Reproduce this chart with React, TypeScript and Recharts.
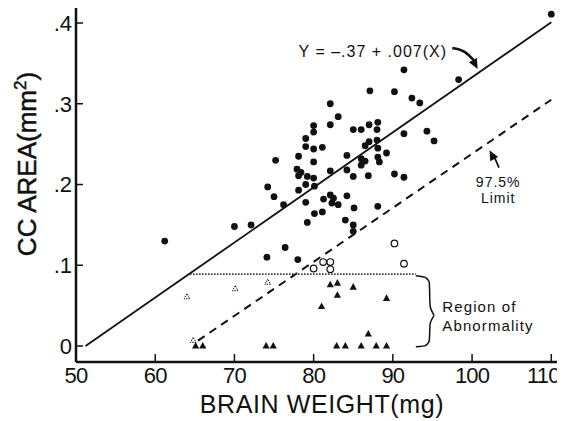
import React from 'react';
import { ComposedChart, XAxis, YAxis, Scatter, Line } from 'recharts';

const FONT = '"Liberation Sans", Arial, Helvetica, sans-serif';
const INK = '#111111';

const xTicks = [50, 60, 70, 80, 90, 100, 110];
const yTicks = [0, 0.1, 0.2, 0.3, 0.4];

// filled circles
const normalCases = [
  { x: 61.2, y: 0.130 }, { x: 70.0, y: 0.148 }, { x: 72.1, y: 0.150 }, { x: 74.1, y: 0.110 },
  { x: 74.2, y: 0.197 }, { x: 75.0, y: 0.185 }, { x: 75.2, y: 0.230 }, { x: 76.2, y: 0.175 },
  { x: 76.4, y: 0.122 }, { x: 78.0, y: 0.107 }, { x: 78.1, y: 0.235 }, { x: 77.9, y: 0.219 },
  { x: 78.4, y: 0.215 }, { x: 78.1, y: 0.211 }, { x: 78.1, y: 0.193 }, { x: 79.0, y: 0.200 },
  { x: 80.1, y: 0.198 }, { x: 79.2, y: 0.210 }, { x: 80.0, y: 0.208 }, { x: 79.0, y: 0.257 },
  { x: 79.0, y: 0.247 }, { x: 79.0, y: 0.178 }, { x: 79.2, y: 0.153 }, { x: 80.0, y: 0.273 },
  { x: 80.0, y: 0.265 }, { x: 80.0, y: 0.244 }, { x: 80.0, y: 0.228 }, { x: 80.1, y: 0.164 },
  { x: 81.1, y: 0.246 }, { x: 81.1, y: 0.166 }, { x: 81.25, y: 0.182 }, { x: 82.1, y: 0.300 },
  { x: 82.1, y: 0.274 }, { x: 82.1, y: 0.217 }, { x: 82.1, y: 0.187 }, { x: 82.5, y: 0.183 },
  { x: 82.3, y: 0.177 }, { x: 83.1, y: 0.284 }, { x: 83.1, y: 0.175 }, { x: 84.0, y: 0.156 },
  { x: 84.2, y: 0.236 }, { x: 84.2, y: 0.218 }, { x: 84.2, y: 0.186 }, { x: 85.0, y: 0.268 },
  { x: 85.0, y: 0.210 }, { x: 85.1, y: 0.171 }, { x: 85.0, y: 0.150 }, { x: 85.0, y: 0.142 },
  { x: 86.0, y: 0.268 }, { x: 86.0, y: 0.232 }, { x: 86.5, y: 0.229 }, { x: 86.0, y: 0.224 },
  { x: 86.5, y: 0.248 }, { x: 87.0, y: 0.253 }, { x: 87.0, y: 0.274 }, { x: 87.1, y: 0.316 },
  { x: 86.9, y: 0.211 }, { x: 88.1, y: 0.277 }, { x: 88.0, y: 0.268 }, { x: 88.0, y: 0.255 },
  { x: 88.1, y: 0.245 }, { x: 88.1, y: 0.234 }, { x: 88.3, y: 0.228 }, { x: 88.1, y: 0.173 },
  { x: 89.2, y: 0.239 }, { x: 90.2, y: 0.315 }, { x: 90.2, y: 0.213 }, { x: 91.4, y: 0.342 },
  { x: 91.4, y: 0.263 }, { x: 91.4, y: 0.209 }, { x: 92.4, y: 0.307 }, { x: 93.4, y: 0.301 },
  { x: 94.3, y: 0.266 }, { x: 95.2, y: 0.254 }, { x: 98.3, y: 0.330 }, { x: 110.0, y: 0.411 },
];

// open circles
const borderlineCases = [
  { x: 80.0, y: 0.096 }, { x: 81.2, y: 0.104 }, { x: 82.1, y: 0.104 }, { x: 82.1, y: 0.095 },
  { x: 90.2, y: 0.127 }, { x: 91.4, y: 0.102 },
];

// filled triangles
const abnormalCases = [
  { x: 65.1, y: 0 }, { x: 66.0, y: 0 }, { x: 74.0, y: 0 }, { x: 74.9, y: 0 },
  { x: 82.1, y: 0.076 }, { x: 83.0, y: 0.078 }, { x: 85.0, y: 0.073 }, { x: 83.0, y: 0.063 },
  { x: 89.2, y: 0.059 }, { x: 81.0, y: 0.049 }, { x: 86.9, y: 0.015 }, { x: 82.9, y: 0 },
  { x: 84.0, y: 0 }, { x: 86.0, y: 0 }, { x: 87.9, y: 0 }, { x: 89.2, y: 0 },
];

// open triangles
const abnormalOpenCases = [
  { x: 64.0, y: 0.061 }, { x: 70.1, y: 0.071 }, { x: 74.2, y: 0.079 }, { x: 64.8, y: 0.007 },
];

const regressionLine = [{ x: 51.2, y: 0 }, { x: 110.0, y: 0.401 }];
const limitLine = [{ x: 65.4, y: 0.0066 }, { x: 110.0, y: 0.305 }];
const thresholdLine = [{ x: 64.4, y: 0.089 }, { x: 92.9, y: 0.089 }];
const braceUpper = [
  { x: 92.9, y: 0.087 }, { x: 94.1, y: 0.085 }, { x: 94.6, y: 0.078 }, { x: 94.7, y: 0.050 }, { x: 95.2, y: 0.038 },
];
const braceLower = [
  { x: 95.2, y: 0.038 }, { x: 94.7, y: 0.027 }, { x: 94.6, y: 0.007 }, { x: 94.1, y: 0.0005 }, { x: 92.9, y: -0.001 },
];
const equationArrow = [{ x: 97.5, y: 0.369 }, { x: 99.1, y: 0.364 }, { x: 100.2, y: 0.354 }];
const limitArrow = [{ x: 103.4, y: 0.221 }, { x: 102.9, y: 0.232 }, { x: 102.5, y: 0.238 }];
const arrowHeads = [
  { x: 100.7, y: 0.343, angle: 62 },
  { x: 102.2, y: 0.2425, angle: -118 },
];

const annotations = [
  { x: 78.1, y: 0.358, text: 'Y = \u2013.37 + .007(X)', kind: 'equation' },
  { x: 103.3, y: 0.1965, text: '97.5%', kind: 'limit' },
  { x: 103.3, y: 0.1775, text: 'Limit', kind: 'limit' },
  { x: 96.25, y: 0.042, text: 'Region of', kind: 'region' },
  { x: 96.25, y: 0.0186, text: 'Abnormality', kind: 'region' },
];

const annotationStyle: Record<string, any> = {
  equation: { fontSize: 16, letterSpacing: 1, textAnchor: 'start' },
  limit: { fontSize: 14, letterSpacing: 1, textAnchor: 'middle' },
  region: { fontSize: 15, letterSpacing: 1.1, textAnchor: 'start' },
};

const fmtY = (v: number) => (v === 0 ? '0' : '.' + Math.round(v * 10));

const FilledCircle = (p: any) => <circle cx={p.cx} cy={p.cy} r={3.4} fill={INK} />;
const OpenCircle = (p: any) => (
  <circle cx={p.cx} cy={p.cy} r={3.3} fill="#fff" stroke={INK} strokeWidth={1.2} />
);
const FilledTriangle = (p: any) => (
  <polygon
    points={`${p.cx},${p.cy - 4} ${p.cx - 3.6},${p.cy + 2.6} ${p.cx + 3.6},${p.cy + 2.6}`}
    fill={INK}
  />
);
const OpenTriangle = (p: any) => (
  <polygon
    points={`${p.cx},${p.cy - 3} ${p.cx - 2.8},${p.cy + 2} ${p.cx + 2.8},${p.cy + 2}`}
    fill="#fff"
    stroke={INK}
    strokeWidth={1}
    strokeDasharray="1.5 1"
  />
);
const ArrowHead = (p: any) => (
  <polygon
    points="0,0 -10,-4.5 -10,4.5"
    transform={`translate(${p.cx},${p.cy}) rotate(${p.payload.angle})`}
    fill={INK}
  />
);
const AnnotationText = (p: any) => {
  const s = annotationStyle[p.payload.kind];
  return (
    <text
      x={p.cx}
      y={p.cy}
      fontFamily={FONT}
      fontSize={s.fontSize}
      letterSpacing={s.letterSpacing}
      textAnchor={s.textAnchor}
      fill={INK}
    >
      {p.payload.text}
    </text>
  );
};

const XTick = (p: any) => {
  const v = p.payload.value;
  const shift = v === 110 ? -8 : 0;
  return (
    <text
      x={p.x + shift}
      y={p.y}
      dy="0.71em"
      textAnchor="middle"
      fontFamily={FONT}
      fontSize={22}
      letterSpacing={-0.8}
      fill={INK}
    >
      {v}
    </text>
  );
};

const XTitle = (p: any) => {
  const vb = p.viewBox;
  return (
    <text
      x={vb.x + vb.width / 2 + 4}
      y={vb.y + 51}
      textAnchor="middle"
      fontFamily={FONT}
      fontSize={25}
      letterSpacing={0.6}
      fill={INK}
    >
      BRAIN WEIGHT(mg)
    </text>
  );
};

const YTitle = (p: any) => {
  const vb = p.viewBox;
  const cx = vb.x + 19;
  const cy = vb.y + 156;
  return (
    <text
      transform={`translate(${cx},${cy}) rotate(-90)`}
      x={0}
      y={9}
      textAnchor="middle"
      fontFamily={FONT}
      fontSize={26}
      fill={INK}
      stroke={INK}
      strokeWidth={0.5}
    >
      CC AREA(mm
      <tspan dy={-10} fontSize={17}>2</tspan>
      <tspan dy={10}>)</tspan>
    </text>
  );
};

const lineCommon = {
  dataKey: 'y',
  dot: false,
  activeDot: false,
  isAnimationActive: false,
  legendType: 'none' as const,
};

export default function App() {
  return (
    <div style={{ width: 557, height: 413, background: '#fff' }}>
      <ComposedChart width={557} height={413} margin={{ top: 0, right: 0, bottom: 0, left: 0 }}>
        <XAxis
          type="number"
          dataKey="x"
          domain={[50, 111.1]}
          ticks={xTicks}
          interval={0}
          allowDataOverflow
          height={59}
          tickSize={-8}
          tickMargin={13}
          tick={XTick}
          axisLine={{ stroke: INK, strokeWidth: 2.5 }}
          tickLine={{ stroke: INK, strokeWidth: 1.5 }}
          label={{ content: XTitle }}
        />
        <YAxis
          type="number"
          domain={[-0.0198, 0.4186]}
          ticks={yTicks}
          interval={0}
          allowDataOverflow
          width={68}
          tickSize={-7}
          tickMargin={11}
          tickFormatter={fmtY}
          tick={{ fontSize: 22, fill: INK, fontFamily: FONT }}
          axisLine={{ stroke: INK, strokeWidth: 2.5 }}
          tickLine={{ stroke: INK, strokeWidth: 1.5 }}
          label={{ content: YTitle }}
        />
        <YAxis
          yAxisId="right"
          orientation="right"
          type="number"
          domain={[-0.0198, 0.4186]}
          ticks={yTicks}
          interval={0}
          allowDataOverflow
          width={5}
          tickSize={-7}
          tick={false}
          axisLine={{ stroke: INK, strokeWidth: 2 }}
          tickLine={{ stroke: INK, strokeWidth: 1.5 }}
        />

        <Line {...lineCommon} data={regressionLine} type="linear" stroke={INK} strokeWidth={1.8} />
        <Line {...lineCommon} data={limitLine} type="linear" stroke={INK} strokeWidth={2} strokeDasharray="8 6" />
        <Line {...lineCommon} data={thresholdLine} type="linear" stroke="#333" strokeWidth={1.6} strokeDasharray="1.5 1.5" />
        <Line {...lineCommon} data={braceUpper} type="monotoneY" stroke={INK} strokeWidth={1.5} />
        <Line {...lineCommon} data={braceLower} type="monotoneY" stroke={INK} strokeWidth={1.5} />
        <Line {...lineCommon} data={equationArrow} type="monotone" stroke={INK} strokeWidth={2.6} />
        <Line {...lineCommon} data={limitArrow} type="linear" stroke={INK} strokeWidth={1.8} />

        <Scatter data={normalCases} dataKey="y" shape={FilledCircle} isAnimationActive={false} legendType="none" />
        <Scatter data={borderlineCases} dataKey="y" shape={OpenCircle} isAnimationActive={false} legendType="none" />
        <Scatter data={abnormalCases} dataKey="y" shape={FilledTriangle} isAnimationActive={false} legendType="none" />
        <Scatter data={abnormalOpenCases} dataKey="y" shape={OpenTriangle} isAnimationActive={false} legendType="none" />
        <Scatter data={arrowHeads} dataKey="y" shape={ArrowHead} isAnimationActive={false} legendType="none" />
        <Scatter data={annotations} dataKey="y" shape={AnnotationText} isAnimationActive={false} legendType="none" />
      </ComposedChart>
    </div>
  );
}
